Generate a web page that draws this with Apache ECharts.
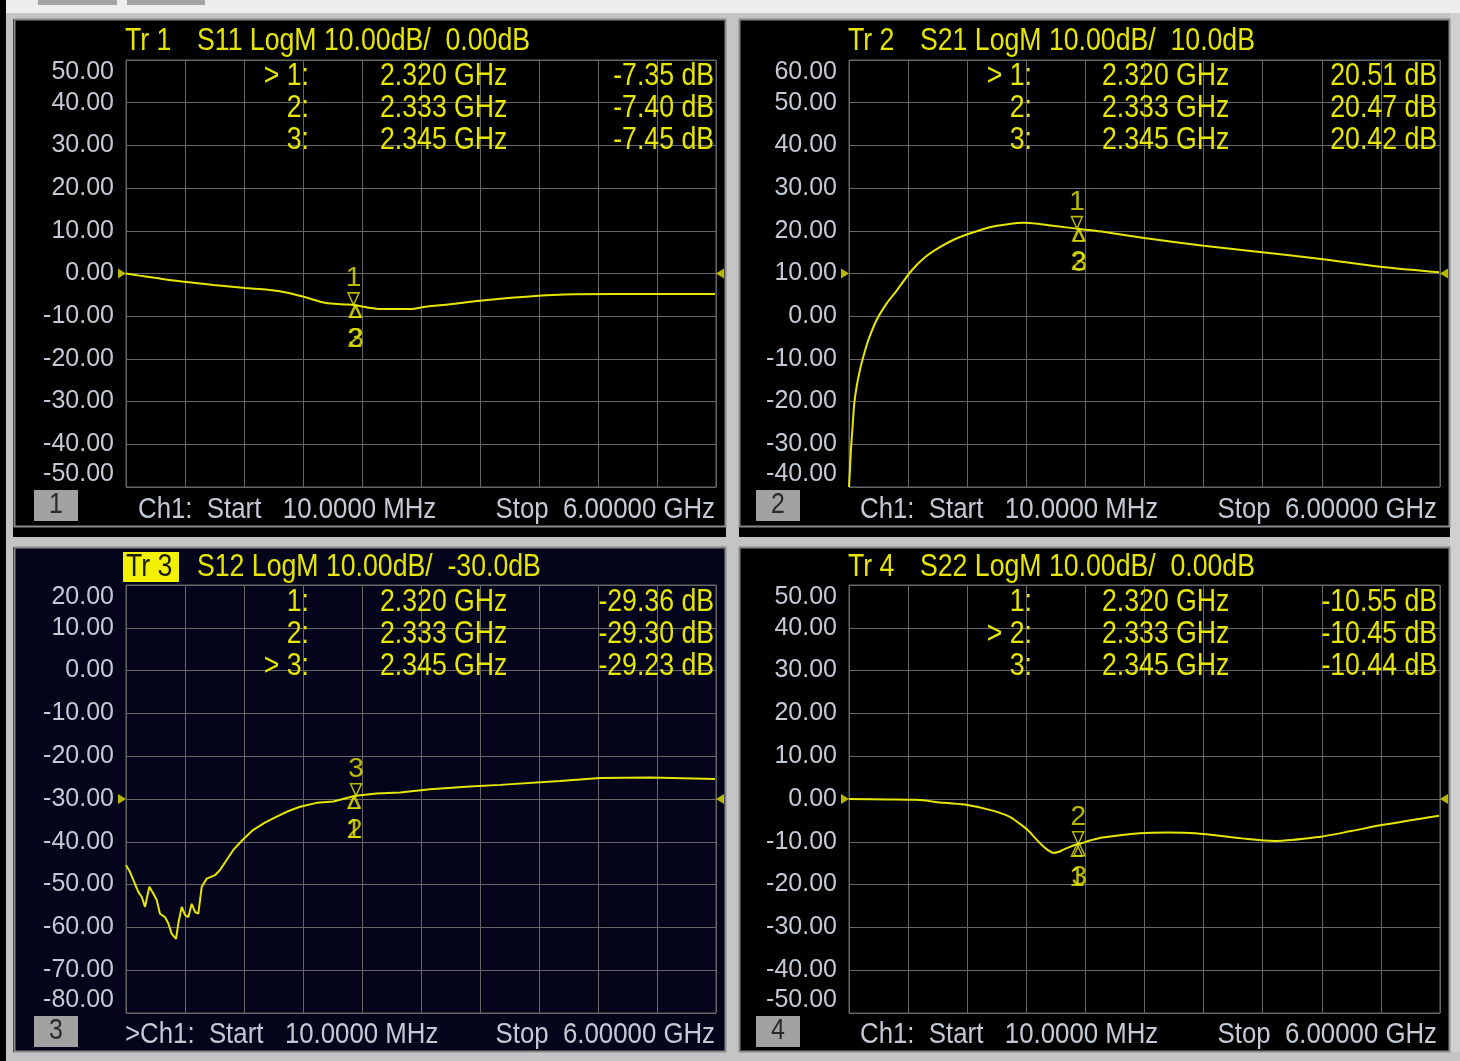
<!DOCTYPE html>
<html><head><meta charset="utf-8">
<script src="https://cdn.jsdelivr.net/npm/echarts@6/dist/echarts.min.js"></script>
<style>html,body{margin:0;padding:0;background:#000;}#c{width:1460px;height:1061px;}</style>
</head><body><div id="c"></div>
<script>
// ---------------- DATA ----------------
const startFreqText = '10.0000 MHz';
const stopFreqText = '6.00000 GHz';
const startGHz = 0.01;
const stopGHz = 6.0;

const traceNames = ['Tr 1', 'Tr 2', 'Tr 3', 'Tr 4'];
const params = ['S11', 'S21', 'S12', 'S22'];
const scaleText = '10.00dB/';
const refText = ['0.00dB', '10.0dB', '-30.0dB', '0.00dB'];
const refLevels = [0, 10, -30, 0];
const yMin = [-50, -40, -80, -50];
const yMax = [50, 60, 20, 50];
const yStep = 10;
const activeMarker = [0, 0, 2, 1];
const channelPrefix = ['', '', '>', ''];

const markerFreqGHz = [2.320, 2.333, 2.345];
const s11Markers = [-7.35, -7.40, -7.45];
const s21Markers = [20.51, 20.47, 20.42];
const s12Markers = [-29.36, -29.30, -29.23];
const s22Markers = [-10.55, -10.45, -10.44];

const s11Freq = [0.01, 0.15, 0.3, 0.62, 0.9, 1.22, 1.45, 1.65, 1.82, 2.04, 2.2, 2.32, 2.333, 2.345, 2.45, 2.6, 2.9, 3.05, 3.3, 3.6, 3.92, 4.2, 4.45, 5.0, 5.5, 5.99];
const s11dB = [0.0, -0.5, -1.0, -2.0, -2.7, -3.4, -3.8, -4.5, -5.5, -6.9, -7.2, -7.35, -7.40, -7.45, -7.9, -8.3, -8.3, -7.8, -7.2, -6.4, -5.7, -5.2, -4.9, -4.8, -4.8, -4.8];

const s21Freq = [0.01, 0.02, 0.03, 0.047, 0.064, 0.088, 0.121, 0.155, 0.206, 0.29, 0.392, 0.493, 0.645, 0.78, 0.927, 1.07, 1.21, 1.446, 1.6, 1.777, 1.94, 2.1, 2.32, 2.333, 2.345, 2.6, 3.003, 3.603, 4.196, 4.794, 5.392, 5.99];
const s21dB = [-40.0, -35.8, -31.2, -25.7, -20.3, -16.4, -12.6, -9.5, -5.6, -0.9, 3.0, 6.0, 10.7, 13.8, 16.1, 17.9, 19.2, 20.9, 21.5, 21.9, 21.6, 21.1, 20.51, 20.47, 20.42, 19.7, 18.3, 16.5, 15.0, 13.4, 11.6, 10.3];

const s12Freq = [0.01, 0.05, 0.1, 0.135, 0.17, 0.203, 0.247, 0.287, 0.322, 0.355, 0.406, 0.44, 0.474, 0.518, 0.541, 0.576, 0.609, 0.643, 0.677, 0.711, 0.744, 0.779, 0.829, 0.914, 0.964, 1.03, 1.099, 1.2, 1.302, 1.42, 1.54, 1.66, 1.777, 1.946, 2.115, 2.32, 2.333, 2.345, 2.555, 2.792, 3.097, 3.5, 3.807, 4.416, 4.822, 5.33, 5.99];
const s12dB = [-45.5, -47.0, -49.8, -51.7, -52.9, -55.2, -50.5, -52.1, -53.6, -56.8, -57.6, -59.1, -61.5, -62.7, -59.1, -55.2, -57.1, -57.6, -54.5, -56.4, -56.8, -50.5, -48.6, -47.8, -46.6, -44.3, -41.9, -39.4, -37.2, -35.5, -34.1, -32.8, -31.8, -30.9, -30.6, -29.36, -29.30, -29.23, -28.7, -28.5, -27.7, -27.1, -26.7, -25.8, -25.1, -25.0, -25.3];

const s22Freq = [0.01, 0.4, 0.69, 0.97, 1.21, 1.446, 1.635, 1.73, 1.824, 1.9, 1.966, 2.03, 2.084, 2.13, 2.178, 2.25, 2.32, 2.333, 2.345, 2.45, 2.578, 2.956, 3.25, 3.52, 3.99, 4.325, 4.79, 5.1, 5.41, 5.99];
const s22dB = [0.0, -0.1, -0.2, -0.9, -1.4, -2.6, -4.1, -5.6, -7.3, -9.2, -10.8, -12.0, -12.6, -12.4, -11.9, -11.2, -10.55, -10.45, -10.44, -9.7, -9.0, -8.0, -7.8, -8.0, -9.2, -9.8, -8.8, -7.5, -6.1, -3.9];

const traceFreqs = [s11Freq, s21Freq, s12Freq, s22Freq];
const traceVals = [s11dB, s21dB, s12dB, s22dB];
const markerVals = [s11Markers, s21Markers, s12Markers, s22Markers];
const smoothFlags = [0.3, 0.3, false, 0.3];

// ---------------- STYLE / LAYOUT ----------------
const YEL = '#e6e600';
const LBL = '#c4cad4';
const GRIDC = '#666666';
const FONT = '"Liberation Sans", Arial, sans-serif';
const SX = 0.86; // horizontal compression of instrument font
const layout = [
  {left: 126, top: 60, width: 590, height: 427, title: [125, 41], rows: [76, 108, 140], mk: [309, 380, 714], box: [34, 490], foot: [138, 715, 510]},
  {left: 849, top: 60, width: 591, height: 427, title: [848, 41], rows: [76, 108, 140], mk: [1032, 1102, 1437], box: [756, 490], foot: [860, 1437, 510]},
  {left: 126, top: 585, width: 590, height: 428, title: [125, 567], rows: [602, 634, 666], mk: [309, 380, 714], box: [34, 1016], foot: [125, 715, 1035]},
  {left: 849, top: 585, width: 591, height: 428, title: [848, 567], rows: [602, 634, 666], mk: [1032, 1102, 1437], box: [756, 1016], foot: [860, 1437, 1035]}
];

const graphics = [];
function rect(x, y, w, h, fill, z) {
  graphics.push({type: 'rect', z: z === undefined ? -50 : z, silent: true, shape: {x, y, width: w, height: h}, style: {fill}});
}
function outline(x, y, w, h, stroke, lw) {
  graphics.push({type: 'rect', z: -40, silent: true, shape: {x, y, width: w, height: h}, style: {fill: 'none', stroke, lineWidth: lw}});
}
function text(x, y, s, align, fill, size) {
  graphics.push({type: 'text', z: 60, silent: true, x, y, scaleX: SX, scaleY: 1,
    style: {text: s, fill: fill || YEL, font: (size || 31) + 'px ' + FONT,
      textAlign: align || 'left', align: align || 'left', textVerticalAlign: 'middle', verticalAlign: 'middle'}});
}

// page chrome
rect(0, 0, 1460, 13, '#eeeeee');
rect(38, 0, 79, 5, '#a4a4a4');
rect(127, 0, 78, 5, '#a4a4a4');
rect(6, 13, 1454, 6, '#c4c4c4');
rect(6, 13, 7, 1048, '#c4c4c4');
rect(726, 13, 13, 1048, '#c4c4c4');
rect(6, 537, 1454, 10, '#c4c4c4');
rect(1450, 13, 10, 1048, '#d0d0d0');
rect(6, 1052, 1454, 9, '#c4c4c4');
rect(0, 0, 6, 1061, '#000000');
rect(13, 547, 713, 505, '#04041a');
outline(14.5, 19.5, 711, 507, '#8a8a8a', 2);
outline(739.5, 19.5, 710, 507, '#8a8a8a', 2);
outline(14.5, 547.5, 711, 504, '#8a8a8a', 2);
outline(739.5, 547.5, 710, 504, '#8a8a8a', 2);

// texts
for (let i = 0; i < 4; i++) {
  const L = layout[i];
  if (i === 2) {
    rect(L.title[0] - 2, L.title[1] - 15, 56, 30, '#f2f200', 55);
    text(L.title[0] + 1, L.title[1], traceNames[i], 'left', '#1a1a00');
  } else {
    text(L.title[0], L.title[1], traceNames[i], 'left');
  }
  text(L.title[0] + 72, L.title[1], params[i] + ' LogM ' + scaleText + '  ' + refText[i], 'left');
  for (let m = 0; m < 3; m++) {
    const lab = (m === activeMarker[i] ? '> ' : '') + (m + 1) + ':';
    text(L.mk[0], L.rows[m], lab, 'right');
    text(L.mk[1], L.rows[m], markerFreqGHz[m].toFixed(3) + ' GHz', 'left');
    text(L.mk[2], L.rows[m], markerVals[i][m].toFixed(2) + ' dB', 'right');
  }
  rect(L.box[0], L.box[1], 44, 31, '#a2a2a2', 55);
  text(L.box[0] + 22, L.box[1] + 15, String(i + 1), 'center', '#2a2a2a', 29);
  text(L.foot[0], L.foot[2], channelPrefix[i] + 'Ch1:  Start   ' + startFreqText, 'left', LBL, 30);
  text(L.foot[1], L.foot[2], 'Stop  ' + stopFreqText, 'right', LBL, 30);
}

// ---------------- CHART ----------------
const grids = [], xAxes = [], yAxes = [], series = [];
for (let i = 0; i < 4; i++) {
  const L = layout[i];
  grids.push({left: L.left, top: L.top, width: L.width, height: L.height, show: true,
    borderColor: GRIDC, borderWidth: 1, backgroundColor: 'transparent'});
  xAxes.push({type: 'value', gridIndex: i, min: startGHz, max: stopGHz, show: false});
  xAxes.push({type: 'value', gridIndex: i, min: 0, max: 10, interval: 1,
    axisLine: {show: false}, axisTick: {show: false}, axisLabel: {show: false},
    splitLine: {show: true, lineStyle: {color: GRIDC, width: 1}}});
  yAxes.push({type: 'value', gridIndex: i, min: yMin[i], max: yMax[i], interval: yStep,
    axisLine: {show: false}, axisTick: {show: false},
    axisLabel: {color: LBL, fontSize: 25, fontFamily: FONT, margin: 12, hideOverlap: false,
      verticalAlignMaxLabel: 'top', verticalAlignMinLabel: 'bottom',
      formatter: v => v.toFixed(2)},
    splitLine: {show: true, lineStyle: {color: GRIDC, width: 1}}});

  series.push({type: 'line', xAxisIndex: 2 * i, yAxisIndex: i, z: 5,
    data: traceFreqs[i].map((f, k) => [f, traceVals[i][k]]),
    showSymbol: false, symbol: 'none', smooth: smoothFlags[i],
    lineStyle: {color: YEL, width: 2}, animation: false, silent: true});

  const act = [], inact = [];
  for (let m = 0; m < 3; m++) {
    const item = {name: String(m + 1), value: [markerFreqGHz[m], markerVals[i][m]]};
    (m === activeMarker[i] ? act : inact).push(item);
  }
  series.push({type: 'scatter', xAxisIndex: 2 * i, yAxisIndex: i, z: 6, clip: false, animation: false, silent: true,
    symbol: 'triangle', symbolSize: [11, 12], symbolRotate: 180, symbolOffset: [0, -6],
    itemStyle: {color: 'rgba(0,0,0,0)', borderColor: YEL, borderWidth: 1.5},
    label: {show: true, position: 'top', distance: 0, formatter: '{b}', color: YEL, fontSize: 28, fontFamily: FONT},
    data: act});
  series.push({type: 'scatter', xAxisIndex: 2 * i, yAxisIndex: i, z: 6, clip: false, animation: false, silent: true,
    symbol: 'triangle', symbolSize: [11, 12], symbolOffset: [0, 6],
    itemStyle: {color: 'rgba(0,0,0,0)', borderColor: YEL, borderWidth: 1.5},
    label: {show: true, position: 'bottom', distance: 7, formatter: '{b}', color: YEL, fontSize: 28, fontFamily: FONT},
    data: inact});
  series.push({type: 'scatter', xAxisIndex: 2 * i, yAxisIndex: i, z: 6, clip: false, animation: false, silent: true,
    symbol: 'triangle', itemStyle: {color: YEL},
    data: [
      {value: [startGHz, refLevels[i]], symbolSize: [10, 8], symbolRotate: -90, symbolOffset: [-4, 0]},
      {value: [stopGHz, refLevels[i]], symbolSize: [10, 8], symbolRotate: 90, symbolOffset: [4, 0]}
    ]});
}

const chart = echarts.init(document.getElementById('c'), null, {renderer: 'canvas'});
chart.setOption({
  backgroundColor: '#000000',
  animation: false,
  grid: grids, xAxis: xAxes, yAxis: yAxes, series,
  graphic: {elements: graphics}
});
</script>
</body></html>
